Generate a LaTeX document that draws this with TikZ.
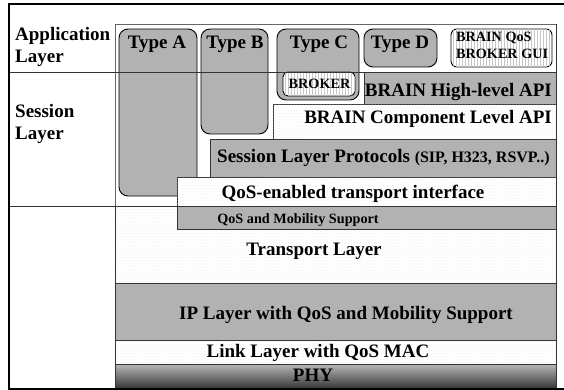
\documentclass[tikz,border=0pt]{standalone}
\usepackage{fontspec}
\setmainfont{Liberation Serif}
\usetikzlibrary{patterns}
\begin{document}
\begin{tikzpicture}[x=1pt,y=-1pt,
  grayfill/.style={fill=black!30,draw=black!80,line width=0.8pt},
  dotfill/.style={fill=white,postaction={pattern=dots,pattern color=black!12},draw=black!80,line width=0.8pt},
  appbox/.style={fill=black!30,draw=black,line width=0.9pt,rounded corners=9pt},
  stripebox/.style={fill=white,postaction={pattern=vertical lines,pattern color=black!22},draw=black,line width=0.9pt,rounded corners=6pt},
  big/.style={font=\fontsize{19}{22}\selectfont\bfseries,inner sep=0pt},
  small/.style={font=\fontsize{14.2}{17.5}\selectfont\bfseries,inner sep=0pt},
  frame/.style={line width=2pt,draw=black},
  divider/.style={line width=0.9pt,draw=black!80}]
\useasboundingbox (0,0) rectangle (564,390);
% inner area
\draw[draw=black!60,line width=0.7pt] (115,388) -- (115,24) -- (556,24);
% lower layers
\draw[dotfill] (115,206) rectangle (556,283);
\draw[grayfill] (115,283) rectangle (556,340);
\draw[dotfill] (115,340) rectangle (556,364);
\draw[top color=black!28,bottom color=black!78,draw=black!80,line width=0.8pt] (115,364) rectangle (556,388);
% application boxes
\draw[appbox] (119,29) rectangle (197,196);
\draw[appbox] (201,29) rectangle (268,134);
\draw[appbox] (277,29) rectangle (359,100);
\draw[appbox] (364,29) rectangle (437,67);
\draw[stripebox] (451,29) rectangle (552,67);
\draw[stripebox,rounded corners=5pt] (283,72) rectangle (355,96);
% session layer boxes
\draw[grayfill] (364,72) rectangle (556,104);
\draw[dotfill] (273,104) rectangle (556,139);
\draw[grayfill] (210,139) rectangle (556,177);
\draw[dotfill] (177,177) rectangle (556,206);
\draw[grayfill] (177,206) rectangle (556,229);
% dividers
\draw[divider] (8,72) -- (556,72);
\draw[divider] (8,206) -- (556,206);
\draw[draw=black!80,line width=0.9pt] (556,24) -- (556,388);
% outer frame
\draw[frame] (564,4.5) -- (8.5,4.5) -- (8.5,388.5) -- (564,388.5);
% texts
\node[big,anchor=base west,align=left] (app) at (15,63) {Application\\Layer};
\node[big,anchor=base west,align=left] (ses) at (15,139.5) {Session\\Layer};
\node[big,anchor=base] (ta) at (157,49) {Type A};
\node[big,anchor=base] (tb) at (235,49) {Type B};
\node[big,anchor=base] (tc) at (319,49) {Type C};
\node[big,anchor=base] (td) at (400,49) {Type D};
\node[small,anchor=base west,align=left] (gui) at (456,59) {BRAIN QoS\\BROKER GUI};
\node[small,anchor=base] (broker) at (319.5,89) {BROKER};
\node[big,anchor=base east] (hl) at (552,97) {BRAIN High-level API};
\node[big,anchor=base east] (cl) at (552,124) {BRAIN Component Level API};
\node[big,anchor=base west] (slp) at (217,163) {Session Layer Protocols {\fontsize{16}{16}\selectfont (SIP, H323, RSVP..)}};
\node[big,anchor=base] (qti) at (353,198.5) {QoS-enabled transport interface};
\node[small,anchor=base] (qms) at (298,223) {QoS and Mobility Support};
\node[big,anchor=base] (tl) at (314,255) {Transport Layer};
\node[big,anchor=base] (ip) at (346,319) {IP Layer with QoS and Mobility Support};
\node[big,anchor=base] (ll) at (318,357) {Link Layer with QoS MAC};
\node[big,anchor=base] (phy) at (313,381) {PHY};
\end{tikzpicture}
\end{document}
